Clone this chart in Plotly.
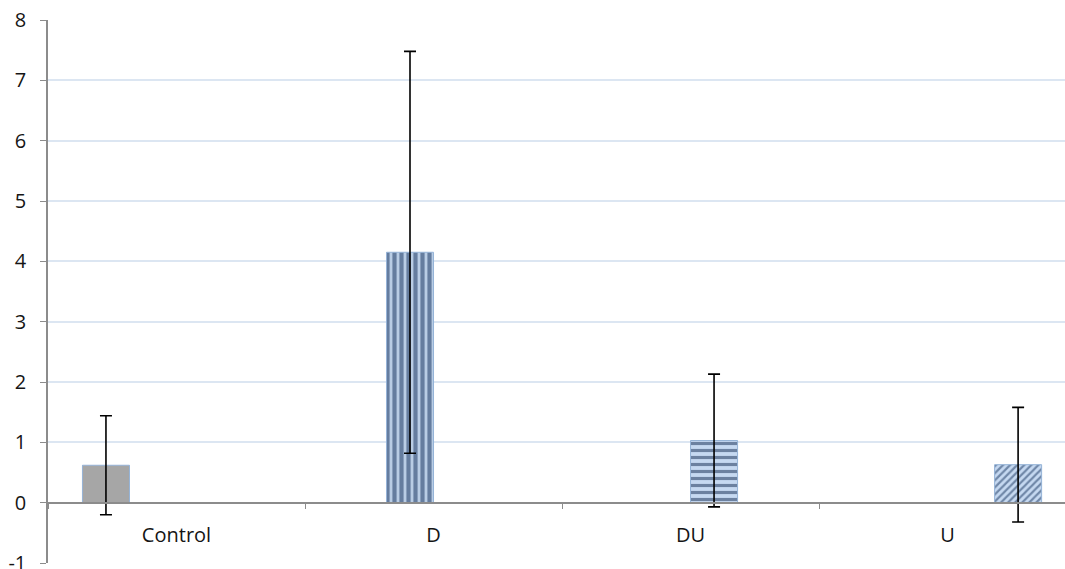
import plotly.graph_objects as go

categories = ["Control", "D", "DU", "U"]
series_names = ["Control", "D", "DU", "U"]
means = [0.62, 4.15, 1.03, 0.63]
errors = [0.82, 3.33, 1.10, 0.95]
y_ticks = [-1, 0, 1, 2, 3, 4, 5, 6, 7, 8]
y_tick_labels = ["-1", "0", "1", "2", "3", "4", "5", "6", "7", "8"]

fills = [
    dict(color="#a6a6a6", pattern=None),
    dict(color="#b9cde5", pattern=dict(shape="|", fgcolor="#122e5a", bgcolor="#b9cde5", size=7, solidity=0.6)),
    dict(color="#c6d9f1", pattern=dict(shape="-", fgcolor="#122a50", bgcolor="#c6d9f1", size=7, solidity=0.45)),
    dict(color="#c6d9f1", pattern=dict(shape="/", fgcolor="#1a365f", bgcolor="#c6d9f1", size=5, solidity=0.45)),
]

fig = go.Figure()
for i, name in enumerate(series_names):
    marker = dict(color=fills[i]["color"], line=dict(color="#95b3d7", width=1))
    if fills[i]["pattern"]:
        marker["pattern"] = fills[i]["pattern"]
    fig.add_trace(go.Bar(
        x=[categories[i]], y=[means[i]], name=name,
        alignmentgroup="all", offsetgroup=str(i),
        marker=marker,
        error_y=dict(type="data", array=[errors[i]], visible=True,
                     color="#000000", thickness=1.6, width=6),
    ))

fig.update_layout(
    width=1065, height=580,
    barmode="group", bargap=0.268, bargroupgap=0,
    showlegend=False,
    plot_bgcolor="white", paper_bgcolor="white",
    margin=dict(l=48, r=0, t=20, b=17),
    font=dict(family="Open Sans, Liberation Sans, sans-serif", size=20, color="#151515"),
    xaxis=dict(
        type="category", categoryorder="array", categoryarray=categories,
        range=[-0.5, 3.457], automargin=False,
        anchor="free", position=1/9,
        showline=True, linecolor="#8c8c8c", linewidth=1.5,
        ticks="outside", tickson="boundaries", ticklen=6, tickcolor="#8c8c8c",
        ticklabelstandoff=15,
        showgrid=False, zeroline=False,
    ),
    yaxis=dict(
        range=[-1, 8], tickvals=y_ticks, ticktext=y_tick_labels, automargin=False,
        showline=True, linecolor="#8c8c8c", linewidth=1.5,
        ticks="outside", ticklen=6, tickcolor="#8c8c8c",
        showgrid=True, gridcolor="#dce6f2", gridwidth=1.5,
        zeroline=True, zerolinecolor="#8c8c8c", zerolinewidth=1.5,
        ticklabelstandoff=10,
    ),
)

fig.write_html(
    "out.html",
    config={"displayModeBar": False},
    post_script="document.body.style.margin='0';document.body.style.overflow='hidden';",
)
